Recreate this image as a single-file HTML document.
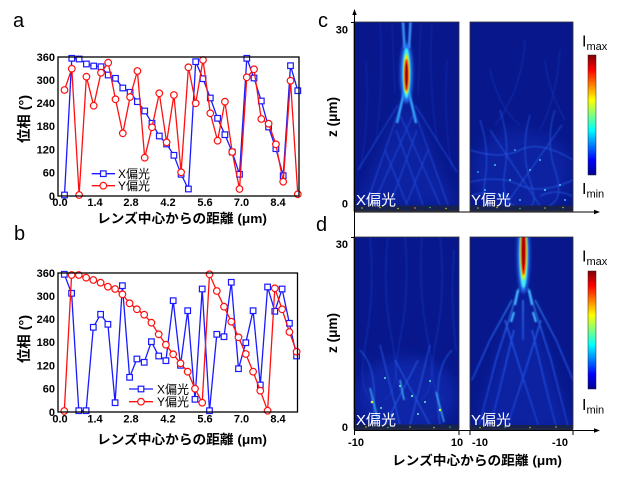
<!DOCTYPE html>
<html><head><meta charset="utf-8"><style>
html,body{margin:0;padding:0;background:#fff;width:620px;height:478px;overflow:hidden}
svg{display:block}
</style></head><body>
<svg width="620" height="478" viewBox="0 0 620 478" xmlns="http://www.w3.org/2000/svg" font-family="'Liberation Sans','Noto Sans CJK JP',sans-serif">
<defs>
<filter id="b1" filterUnits="userSpaceOnUse" x="0" y="0" width="620" height="478"><feGaussianBlur stdDeviation="0.8"/></filter>
<filter id="b2" filterUnits="userSpaceOnUse" x="0" y="0" width="620" height="478"><feGaussianBlur stdDeviation="1.6"/></filter>
<filter id="b6" filterUnits="userSpaceOnUse" x="0" y="0" width="620" height="478"><feGaussianBlur stdDeviation="6"/></filter>
<clipPath id="cCL"><rect x="354" y="22" width="105" height="189"/></clipPath>
<clipPath id="cCR"><rect x="470" y="22" width="103" height="189"/></clipPath>
<clipPath id="cDL"><rect x="354" y="237" width="105" height="193"/></clipPath>
<clipPath id="cDR"><rect x="470" y="237" width="103" height="193"/></clipPath>
<linearGradient id="jet" x1="0" y1="1" x2="0" y2="0">
<stop offset="0" stop-color="#00008f"/><stop offset="0.125" stop-color="#0000ff"/><stop offset="0.375" stop-color="#00ffff"/><stop offset="0.625" stop-color="#ffff00"/><stop offset="0.875" stop-color="#ff0000"/><stop offset="1" stop-color="#800000"/>
</linearGradient>
<linearGradient id="trg" gradientUnits="userSpaceOnUse" x1="0" y1="280" x2="0" y2="430">
<stop offset="0" stop-color="#40b0ff"/><stop offset="0.4" stop-color="#2a66ff"/><stop offset="1" stop-color="#1c44d8"/>
</linearGradient>
<marker id="sq" viewBox="-5 -5 10 10" markerWidth="10" markerHeight="10" refX="0" refY="0" markerUnits="userSpaceOnUse"><rect x="-2.8" y="-2.8" width="5.6" height="5.6" fill="#fff" stroke="#1a1aff" stroke-width="1.2"/></marker>
<marker id="ci" viewBox="-5 -5 10 10" markerWidth="10" markerHeight="10" refX="0" refY="0" markerUnits="userSpaceOnUse"><circle cx="0" cy="0" r="3.3" fill="#fff" stroke="#ff1010" stroke-width="1.2"/></marker>
</defs>
<rect width="620" height="478" fill="#fff"/>

<!-- panel letters -->
<text x="13" y="27" font-size="20">a</text>
<text x="14" y="240" font-size="20">b</text>
<text x="318" y="27" font-size="20">c</text>
<text x="316" y="231" font-size="20">d</text>

<!-- ===== Plot a ===== -->
<g font-weight="bold" font-size="11" text-anchor="end">
<text x="55" y="61">360</text><text x="55" y="84">300</text><text x="55" y="107">240</text><text x="55" y="130">180</text><text x="55" y="153.5">120</text><text x="55" y="176.5">60</text><text x="55" y="200">0</text>
</g>
<g font-weight="bold" font-size="11" text-anchor="middle">
<text x="60" y="206">0.0</text><text x="95" y="206">1.4</text><text x="131" y="206">2.8</text><text x="168" y="206">4.2</text><text x="205" y="206">5.6</text><text x="241.5" y="206">7.0</text><text x="278" y="206">8.4</text>
</g>
<text x="97" y="223" font-size="13" font-weight="bold" textLength="170" lengthAdjust="spacingAndGlyphs">レンズ中心からの距離 (μm)</text>
<text transform="translate(29,119) rotate(-90)" text-anchor="middle" font-size="14" font-weight="bold" textLength="48" lengthAdjust="spacingAndGlyphs">位相 (°)</text>
<polyline fill="none" stroke="#1a1aff" stroke-width="1.3" marker-start="url(#sq)" marker-mid="url(#sq)" marker-end="url(#sq)" points="64.5,195 71.8,58.3 79.1,59 86.4,64 93.7,66 101,66.7 108.2,75 115.5,78.3 122.8,88 130.1,92.3 137.4,101.7 144.7,111 152,123.3 159.3,136 166.6,144 173.9,155.3 181.1,174.3 188.4,189 195.7,61.7 203,78.7 210.3,98 217.6,118.3 224.9,134.7 232.2,152 239.5,174.3 246.8,58.3 254,78 261.3,101 268.6,127 275.9,148.7 283.2,175.7 290.5,65.7 297.8,90.7"/>
<polyline fill="none" stroke="#ff1010" stroke-width="1.3" marker-start="url(#ci)" marker-mid="url(#ci)" marker-end="url(#ci)" points="64.5,90 71.8,68.7 79.1,195 86.4,76.7 93.7,105.7 101,72.7 108.2,62.7 115.5,99.3 122.8,133.3 130.1,97 137.4,71 144.7,157.7 152,127.3 159.3,93.3 166.6,142.3 173.9,95 181.1,172.3 188.4,67.3 195.7,103.3 203,60 210.3,113.3 217.6,140.7 224.9,101.7 232.2,152 239.5,189 246.8,77.3 254,69.3 261.3,119 268.6,123.7 275.9,144.3 283.2,181.7 290.5,80.7 297.8,194.3"/>
<rect x="58" y="57" width="241" height="139" fill="none" stroke="#000" stroke-width="1.3"/>
<line x1="91.7" y1="173.7" x2="115" y2="173.7" stroke="#1a1aff" stroke-width="1.3"/>
<rect x="100.5" y="170.9" width="5.6" height="5.6" fill="#fff" stroke="#1a1aff" stroke-width="1.2"/>
<text x="118" y="178" font-size="12">X偏光</text>
<line x1="91.7" y1="185.7" x2="115" y2="185.7" stroke="#ff1010" stroke-width="1.3"/>
<circle cx="103.3" cy="185.7" r="3.3" fill="#fff" stroke="#ff1010" stroke-width="1.2"/>
<text x="118" y="190" font-size="12">Y偏光</text>

<!-- ===== Plot b ===== -->
<g font-weight="bold" font-size="11" text-anchor="end">
<text x="55" y="277">360</text><text x="55" y="300">300</text><text x="55" y="323">240</text><text x="55" y="346">180</text><text x="55" y="369.5">120</text><text x="55" y="392.5">60</text><text x="55" y="416">0</text>
</g>
<g font-weight="bold" font-size="11" text-anchor="middle">
<text x="60" y="422.5">0.0</text><text x="95" y="422.5">1.4</text><text x="131" y="422.5">2.8</text><text x="168" y="422.5">4.2</text><text x="205" y="422.5">5.6</text><text x="241.5" y="422.5">7.0</text><text x="278" y="422.5">8.4</text>
</g>
<text x="97" y="444" font-size="13" font-weight="bold" textLength="170" lengthAdjust="spacingAndGlyphs">レンズ中心からの距離 (μm)</text>
<text transform="translate(29,339) rotate(-90)" text-anchor="middle" font-size="14" font-weight="bold" textLength="48" lengthAdjust="spacingAndGlyphs">位相 (°)</text>
<polyline fill="none" stroke="#1a1aff" stroke-width="1.3" marker-start="url(#sq)" marker-mid="url(#sq)" marker-end="url(#sq)" points="64.3,274.3 71.6,293.3 78.8,410.7 86.1,410.7 93.3,327.3 100.6,314.3 107.9,324.3 115.1,402.7 122.4,285.7 129.6,377.3 136.9,359 144.2,362.3 151.4,341.7 158.7,356 165.9,360.7 173.2,300.7 180.5,365.3 187.7,310.7 195,399.3 202.2,289 209.5,410.7 216.8,334.3 224,336.7 231.3,282.3 238.5,368.7 245.8,342.7 253.1,310.7 260.3,385 267.6,287 274.8,311.3 282.1,289 289.4,323.3 296.6,356"/>
<polyline fill="none" stroke="#ff1010" stroke-width="1.3" marker-start="url(#ci)" marker-mid="url(#ci)" marker-end="url(#ci)" points="64.3,411 71.6,275 78.8,275 86.1,277.7 93.3,280 100.6,282.7 107.9,286.7 115.1,289 122.4,294.3 129.6,303.3 136.9,309.3 144.2,314.7 151.4,322.7 158.7,334.3 165.9,344.7 173.2,354.3 180.5,363.3 187.7,371.7 195,388.7 202.2,402.7 209.5,274.3 216.8,291 224,306.7 231.3,321.7 238.5,337.3 245.8,354 253.1,371.7 260.3,390.7 267.6,410.7 274.8,288.3 282.1,309.3 289.4,332 296.6,351.7"/>
<rect x="58" y="273" width="239.5" height="139" fill="none" stroke="#000" stroke-width="1.3"/>
<line x1="129" y1="389" x2="153" y2="389" stroke="#1a1aff" stroke-width="1.3"/>
<rect x="138.2" y="386.2" width="5.6" height="5.6" fill="#fff" stroke="#1a1aff" stroke-width="1.2"/>
<text x="157" y="393.3" font-size="12">X偏光</text>
<line x1="129" y1="401.7" x2="153" y2="401.7" stroke="#ff1010" stroke-width="1.3"/>
<circle cx="141" cy="401.7" r="3.3" fill="#fff" stroke="#ff1010" stroke-width="1.2"/>
<text x="157" y="406" font-size="12">Y偏光</text>

<!-- ===== Heatmap c-left ===== -->
<g clip-path="url(#cCL)">
<rect x="354" y="22" width="105" height="189" fill="#08188c"/>
<polygon points="406,95 356,206 457,206" fill="#1836c8" opacity=".35" filter="url(#b6)"/>
<g stroke="#1a38c8" stroke-width="1" fill="none" opacity=".5" filter="url(#b1)">
<path d="M380 22 Q384 80 376 140"/><path d="M432 22 Q428 80 437 140"/><path d="M392 22 L395 95"/><path d="M421 22 L418 95"/><path d="M366 60 Q370 120 360 170"/><path d="M447 60 Q443 120 452 170"/>
</g>
<g stroke="#2a5cf0" stroke-width="1.2" fill="none" opacity=".55" filter="url(#b1)">
<path d="M404 96 L366 205"/><path d="M409 96 L448 205"/><path d="M400 115 L440 205"/><path d="M413 115 L373 205"/><path d="M396 130 L423 205"/><path d="M417 130 L390 205"/><path d="M398 105 L358 170"/><path d="M415 105 L457 172"/><path d="M385 150 L407 205"/><path d="M428 150 L406 205"/>
</g>
<g stroke="#3a98ff" stroke-width="2.4" fill="none" filter="url(#b1)"><path d="M403 22 L404.5 48"/><path d="M410.5 22 L409 48"/></g>
<g stroke="#34a8ff" stroke-width="2.4" fill="none" filter="url(#b1)"><path d="M405 88 L397 123"/><path d="M408 88 L416 123"/></g>
<ellipse cx="406.5" cy="73" rx="6" ry="30" fill="#2a7cff" filter="url(#b2)"/>
<ellipse cx="406.5" cy="73" rx="3.8" ry="25" fill="#3ff0f0" filter="url(#b1)"/>
<ellipse cx="406.5" cy="74" rx="2.8" ry="20" fill="#f5e800" filter="url(#b1)"/>
<ellipse cx="406.5" cy="75" rx="2" ry="16" fill="#ee1000" filter="url(#b1)"/>
<ellipse cx="406.5" cy="75" rx="1" ry="11" fill="#9a0000"/>
<rect x="354" y="205.5" width="105" height="5.5" fill="#18224e"/>
<g fill="#d0c020"><circle cx="362" cy="208" r=".8"/><circle cx="380" cy="207.5" r=".8"/><circle cx="398" cy="208.5" r=".8"/><circle cx="415" cy="208" r=".9" fill="#e07020"/><circle cx="430" cy="207.5" r=".8" fill="#40c060"/><circle cx="446" cy="208.5" r=".8"/></g>
</g>
<rect x="354" y="22" width="105" height="189" fill="none" stroke="#333" stroke-width=".8"/>

<!-- ===== Heatmap c-right ===== -->
<g clip-path="url(#cCR)">
<rect x="470" y="22" width="103" height="189" fill="#08188c"/>
<ellipse cx="521" cy="172" rx="50" ry="42" fill="#1836c8" opacity=".35" filter="url(#b6)"/>
<g stroke="#2450e8" stroke-width=".9" fill="none" opacity=".4" filter="url(#b1)">
<path d="M525 40 Q522 90 495 125"/><path d="M560 50 Q556 100 540 130"/><path d="M490 70 Q500 110 520 125"/><path d="M545 60 Q548 90 565 120"/>
</g>
<g stroke="#3070ff" stroke-width="1" fill="none" opacity=".6" filter="url(#b1)">
<path d="M480 120 Q490 150 485 180 T 495 206"/><path d="M500 110 Q510 140 505 170 T 515 206"/><path d="M530 115 Q520 150 530 180 T 525 206"/><path d="M555 110 Q545 140 555 170 T 548 206"/><path d="M470 150 Q500 160 520 150 T 573 160"/><path d="M470 182 Q500 175 520 185 T 573 180"/><path d="M490 130 L540 206"/><path d="M562 125 L505 206"/><path d="M472 195 Q490 190 510 198"/><path d="M540 196 Q556 188 572 196"/>
</g>
<g fill="#50d8ff" opacity=".85"><circle cx="495" cy="165" r="1"/><circle cx="510" cy="180" r="1"/><circle cx="530" cy="170" r="1"/><circle cx="545" cy="190" r="1.1"/><circle cx="500" cy="195" r="1"/><circle cx="520" cy="200" r="1"/><circle cx="560" cy="185" r="1"/><circle cx="485" cy="190" r="1"/><circle cx="540" cy="160" r="1"/><circle cx="565" cy="200" r="1"/><circle cx="515" cy="150" r=".9"/><circle cx="478" cy="172" r=".9"/></g>
<rect x="470" y="205.5" width="103" height="5.5" fill="#18224e"/>
<g fill="#c0c030"><circle cx="478" cy="208" r=".8"/><circle cx="497" cy="207.5" r=".8"/><circle cx="520" cy="208.5" r=".8" fill="#40c060"/><circle cx="545" cy="208" r=".8"/><circle cx="563" cy="207.5" r=".8"/></g>
</g>
<rect x="470" y="22" width="103" height="189" fill="none" stroke="#333" stroke-width=".8"/>

<!-- ===== Heatmap d-left ===== -->
<g clip-path="url(#cDL)">
<rect x="354" y="237" width="105" height="193" fill="#08188c"/>
<ellipse cx="406" cy="395" rx="50" ry="38" fill="#1836c8" opacity=".45" filter="url(#b6)"/>
<g stroke="#2450e8" stroke-width="1" fill="none" opacity=".4" filter="url(#b1)">
<path d="M370 237 Q375 290 366 340 T 372 400"/><path d="M388 237 Q382 290 392 340 T 384 400"/><path d="M405 237 Q410 290 400 340 T 408 400"/><path d="M422 237 Q418 290 428 340 T 420 400"/><path d="M440 237 Q446 290 436 340 T 444 400"/><path d="M454 250 Q450 300 456 350"/>
</g>
<g stroke="#3070ff" stroke-width="1.1" fill="none" opacity=".65" filter="url(#b1)">
<path d="M360 350 Q380 370 372 425"/><path d="M380 345 L400 425"/><path d="M430 345 L410 425"/><path d="M452 350 Q432 370 440 425"/><path d="M395 360 L430 425"/><path d="M418 360 L385 425"/>
</g>
<g stroke="#44c4ff" stroke-width="1.4" fill="none" opacity=".9" filter="url(#b1)"><path d="M370 388 L378 420"/><path d="M436 392 L444 422"/><path d="M400 380 L404 400"/></g>
<g fill="#60f0d0"><circle cx="372" cy="402" r="1.3" fill="#e0f040"/><circle cx="381" cy="408" r="1"/><circle cx="400" cy="386" r="1"/><circle cx="412" cy="396" r="1.1"/><circle cx="425" cy="402" r="1"/><circle cx="440" cy="410" r="1.2" fill="#d0f040"/><circle cx="392" cy="415" r="1"/><circle cx="430" cy="381" r="1"/><circle cx="385" cy="378" r="1"/><circle cx="418" cy="414" r="1"/></g>
<rect x="354" y="424.5" width="105" height="5.5" fill="#18224e"/>
<g fill="#c0c030"><circle cx="366" cy="427" r=".8"/><circle cx="388" cy="427.5" r=".8" fill="#40c060"/><circle cx="410" cy="427" r=".8"/><circle cx="434" cy="427.5" r=".8"/><circle cx="450" cy="427" r=".8" fill="#40c060"/></g>
</g>
<rect x="354" y="237" width="105" height="192" fill="none" stroke="#333" stroke-width=".8"/>

<!-- ===== Heatmap d-right ===== -->
<g clip-path="url(#cDR)">
<rect x="470" y="237" width="103" height="193" fill="#08188c"/>
<polygon points="523,280 474,430 572,430" fill="#1836c8" opacity=".35" filter="url(#b6)"/>
<g stroke="url(#trg)" stroke-width="1.5" fill="none" opacity=".7" filter="url(#b1)">
<path d="M519 288 L496 360 L478 430"/><path d="M528 288 L551 360 L569 430"/><path d="M505 320 L523 378 L540 430"/><path d="M541 320 L523 378 L506 430"/><path d="M512 300 L490 340 L472 380"/><path d="M535 300 L556 340 L573 380"/><path d="M514 330 L497 400 L489 430"/><path d="M532 330 L549 400 L557 430"/><path d="M523 300 L523 340"/>
</g>
<g stroke="#40b8ff" stroke-width="2.2" fill="none" filter="url(#b1)"><path d="M518 290 L515 305"/><path d="M529 290 L532 305"/><path d="M514 312 L511 322"/><path d="M533 312 L536 322"/></g>
<ellipse cx="523.5" cy="255" rx="6" ry="38" fill="#2a7cff" filter="url(#b2)"/>
<ellipse cx="523.5" cy="255" rx="4.2" ry="33" fill="#3ff0f0" filter="url(#b1)"/>
<ellipse cx="523.5" cy="252" rx="3.2" ry="28" fill="#f5e800" filter="url(#b1)"/>
<ellipse cx="523.5" cy="250" rx="2.4" ry="25" fill="#ee1000" filter="url(#b1)"/>
<ellipse cx="523.5" cy="250" rx="1.2" ry="20" fill="#9a0000"/>
<rect x="470" y="425" width="103" height="5" fill="#18224e"/>
<g fill="#c0c030"><circle cx="480" cy="427.5" r=".8"/><circle cx="505" cy="427" r=".8" fill="#40c060"/><circle cx="530" cy="427.5" r=".8"/><circle cx="556" cy="427" r=".8"/></g>
</g>
<rect x="470" y="237" width="103" height="192" fill="none" stroke="#333" stroke-width=".8"/>

<!-- white labels in maps -->
<g fill="#fff" font-size="15">
<text x="356" y="205">X偏光</text><text x="471" y="205">Y偏光</text>
<text x="356" y="425">X偏光</text><text x="471" y="425">Y偏光</text>
</g>

<!-- axes for heatmaps -->
<g stroke="#000" stroke-width="1" fill="none">
<line x1="354.5" y1="14" x2="354.5" y2="435"/>
<line x1="354.5" y1="212" x2="595" y2="212"/>
<line x1="354.5" y1="430.5" x2="595" y2="430.5"/>
<line x1="351" y1="22.5" x2="354.5" y2="22.5"/>
<line x1="351" y1="237.5" x2="354.5" y2="237.5"/>
<line x1="459" y1="430.5" x2="459" y2="435"/>
<line x1="470" y1="430.5" x2="470" y2="435"/>
<line x1="573" y1="430.5" x2="573" y2="435"/>
</g>
<polygon points="354.5,9 352.3,15 356.7,15" fill="#000"/>
<polygon points="600,212 594,209.8 594,214.2" fill="#000"/>
<polygon points="600,430.5 594,428.3 594,432.7" fill="#000"/>

<g font-weight="bold" font-size="11" text-anchor="end">
<text x="348" y="33.5">30</text><text x="348" y="207.5">0</text>
<text x="348" y="248">30</text><text x="348" y="431">0</text>
</g>
<g font-weight="bold" font-size="11" text-anchor="middle">
<text x="356" y="446">-10</text><text x="457" y="446">10</text><text x="480" y="446">-10</text><text x="560" y="446">-10</text>
</g>
<text x="392" y="465" font-size="13" font-weight="bold" textLength="170" lengthAdjust="spacingAndGlyphs">レンズ中心からの距離 (μm)</text>
<text transform="translate(337,117) rotate(-90)" text-anchor="middle" font-size="14" font-weight="bold" textLength="40" lengthAdjust="spacingAndGlyphs">z (μm)</text>
<text transform="translate(337,333) rotate(-90)" text-anchor="middle" font-size="14" font-weight="bold" textLength="40" lengthAdjust="spacingAndGlyphs">z (μm)</text>

<!-- colorbars -->
<rect x="588" y="55" width="8" height="120" fill="url(#jet)" stroke="#222" stroke-width=".5"/>
<rect x="588" y="271" width="8" height="118" fill="url(#jet)" stroke="#222" stroke-width=".5"/>
<text x="582" y="46.7" font-size="16">I<tspan font-size="11" dy="3.5">max</tspan></text>
<text x="582" y="194" font-size="16">I<tspan font-size="11" dy="3.5">min</tspan></text>
<text x="582" y="261.7" font-size="16">I<tspan font-size="11" dy="3.5">max</tspan></text>
<text x="582" y="410" font-size="16">I<tspan font-size="11" dy="3.5">min</tspan></text>
</svg>
</body></html>
